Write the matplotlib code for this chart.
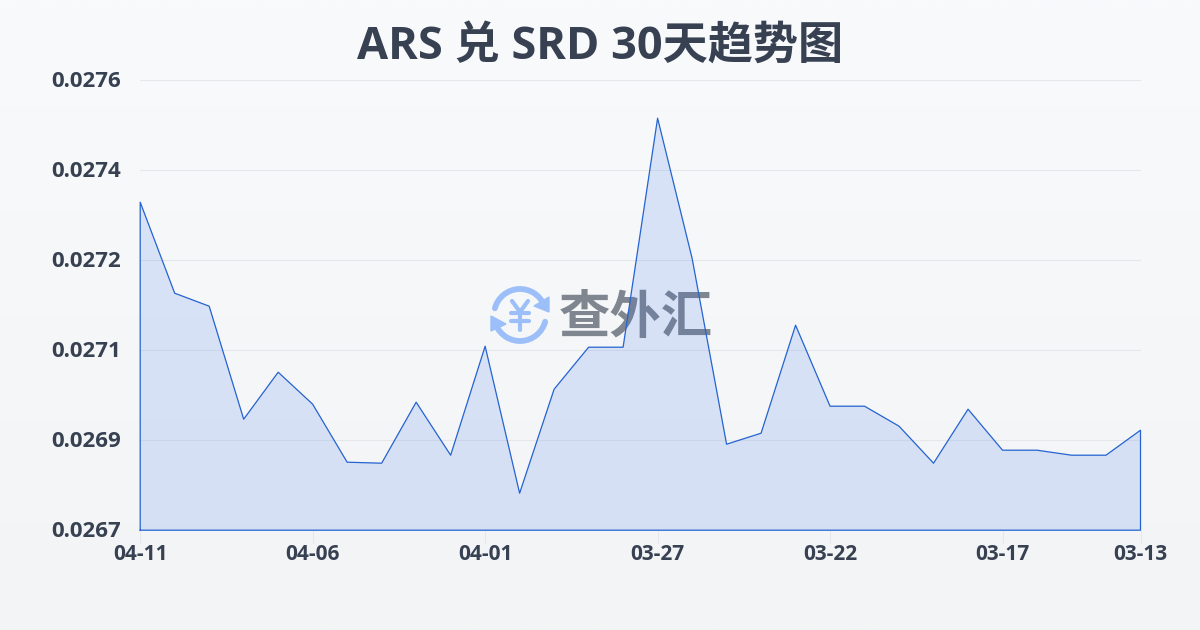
import numpy as np
import matplotlib
matplotlib.use("Agg")
import matplotlib.pyplot as plt
from matplotlib.patches import Arc, Polygon
from matplotlib.transforms import ScaledTranslation

plt.rcParams['font.family'] = ['Open Sans', 'Noto Sans CJK SC', 'DejaVu Sans']

# data, newest first like the original
dates = ["04-11", "04-10", "04-09", "04-08", "04-07", "04-06", "04-05", "04-04", "04-03", "04-02",
         "04-01", "03-31", "03-30", "03-29", "03-28", "03-27", "03-26", "03-25", "03-24", "03-23",
         "03-22", "03-21", "03-20", "03-19", "03-18", "03-17", "03-16", "03-15", "03-14", "03-13"]
rates = [0.027356, 0.027174, 0.027148, 0.026922, 0.027016, 0.026952, 0.026836, 0.026834, 0.026956, 0.026850,
         0.027068, 0.026774, 0.026982, 0.027066, 0.027066, 0.027524, 0.027244, 0.026872, 0.026894, 0.027110,
         0.026948, 0.026948, 0.026908, 0.026834, 0.026942, 0.026860, 0.026860, 0.026850, 0.026850, 0.026900]
ytick_values = [0.0267, 0.02688, 0.02706, 0.02724, 0.02742, 0.0276]
ytick_labels = ["0.0267", "0.0269", "0.0271", "0.0272", "0.0274", "0.0276"]
xtick_index = [0, 5, 10, 15, 20, 25, 29]

W, H = 1200, 630
dark = "#374151"
line = "#2563d0"
logo_blue = "#9dbff9"

fig = plt.figure(figsize=(12, 6.3), dpi=100)

# background gradient
bg = fig.add_axes([0, 0, 1, 1], zorder=0)
grad = np.linspace(0, 1, 256).reshape(-1, 1, 1)
top = np.array([0xf8, 0xfa, 0xfc]) / 255
bottom = np.array([0xf2, 0xf4, 0xf6]) / 255
bg.imshow(top + (bottom - top) * grad, aspect="auto", extent=[0, W, H, 0])
bg.set_xlim(0, W)
bg.set_ylim(H, 0)
bg.axis("off")

# watermark logo, in pixel coordinates
cx, cy, r = 520, 315, 26
bg.add_patch(Arc((cx, cy), 2*r, 2*r, theta1=195, theta2=338, color=logo_blue, lw=4.2, capstyle="round"))
bg.add_patch(Arc((cx, cy), 2*r, 2*r, theta1=15, theta2=158, color=logo_blue, lw=4.2, capstyle="round"))
bg.add_patch(Polygon([[549, 297], [549, 312], [534, 306]], color=logo_blue))
bg.add_patch(Polygon([[491, 316], [491, 331], [506, 324]], color=logo_blue))
bg.plot([512, 520, 528], [301, 312, 301], color=logo_blue, lw=3, solid_capstyle="round")
bg.plot([520, 520], [312, 330], color=logo_blue, lw=3, solid_capstyle="round")
bg.plot([511, 529], [313, 313], color=logo_blue, lw=3, solid_capstyle="round")
bg.plot([511, 529], [321, 321], color=logo_blue, lw=3, solid_capstyle="round")
bg.text(636, 317, "查外汇", fontsize=37, fontweight="bold", color="#80868f", ha="center", va="center",
        family="Noto Sans CJK SC")

ax = fig.add_axes([140.2/W, 1 - 530.2/H, 1000.3/W, 450/H], zorder=1)
ax.patch.set_alpha(0)
x = np.arange(len(rates))
ax.fill_between(x, rates, ytick_values[0], facecolor=(0.15, 0.39, 0.90, 0.14),
                edgecolor="none", zorder=3)
ax.plot(np.r_[x[0], x, x[-1], x[0]], np.r_[ytick_values[0], rates, ytick_values[0], ytick_values[0]],
        color=line, lw=0.9, zorder=4, clip_on=False)

ax.set_xlim(0, len(rates) - 1)
ax.set_ylim(ytick_values[0], ytick_values[-1])
ax.set_yticks(ytick_values)
ax.set_yticklabels(ytick_labels, fontsize=16, fontweight="bold", color=dark)
ax.set_xticks(xtick_index)
ax.set_xticklabels([dates[i] for i in xtick_index], fontsize=15, fontweight="bold", color=dark)
ax.tick_params(axis="y", length=0, pad=14)
ax.tick_params(axis="x", length=9, width=0.8, color="#e5e7eb", pad=1)
ax.grid(axis="y", color="#e5e7eb", lw=0.8, zorder=1)
for s in ax.spines.values():
    s.set_visible(False)
# y labels sit a little above their grid lines
nudge = ScaledTranslation(0, 1/100, fig.dpi_scale_trans)
for t in ax.get_yticklabels():
    t.set_transform(t.get_transform() + nudge)

fig.text(0.5, 1 - 47/H, "ARS 兑 SRD 30天趋势图", fontsize=32.5, fontweight="bold", color=dark,
         ha="center", va="center")

fig.savefig("out.png", dpi=100)
